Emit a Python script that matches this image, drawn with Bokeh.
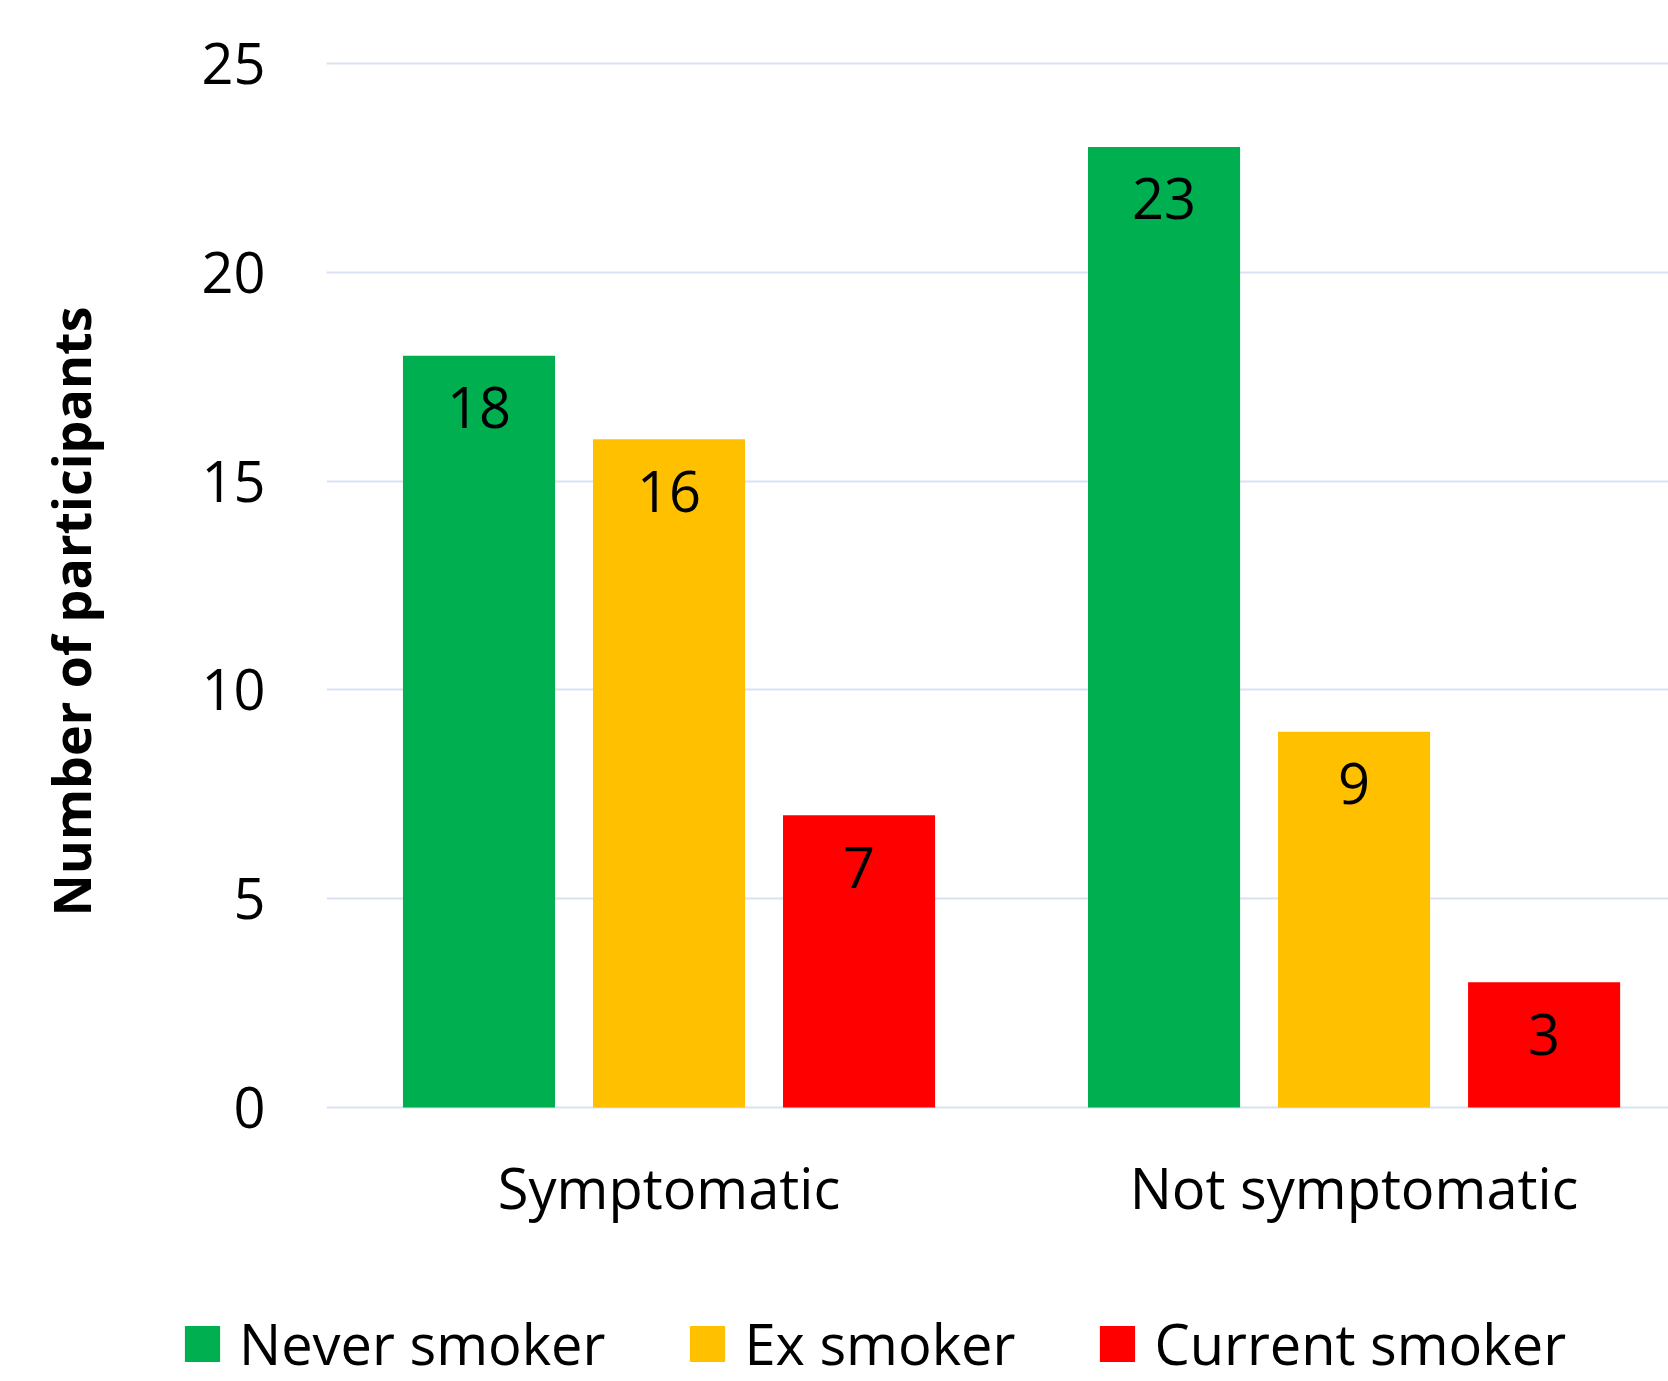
from bokeh.plotting import figure
from bokeh.models import Range1d, FixedTicker, Legend, LegendItem, ColumnDataSource
from bokeh.layouts import column
from bokeh.core.properties import value
from bokeh.embed import file_html
from bokeh.resources import INLINE

categories = ["Symptomatic", "Not symptomatic"]
series = ["Never smoker", "Ex smoker", "Current smoker"]
never_smoker = [18, 23]
ex_smoker = [16, 9]
current_smoker = [7, 3]
colors = ["#00B050", "#FFC000", "#FF0000"]
y_ticks = [0, 5, 10, 15, 20, 25]

W, H = 1668, 1381
H2 = 111
FONT = "Open Sans"

p = figure(width=W, height=H - H2, output_backend="svg", toolbar_location=None,
           x_range=Range1d(0, 1.959), y_range=Range1d(-0.503, 25.55),
           min_border_left=326, min_border_right=0, min_border_top=40,
           min_border_bottom=H - H2 - 1128)
p.frame_align = False
p.outline_line_color = None
p.background_fill_color = "white"
p.border_fill_color = "white"

offsets = [-0.2774, 0.0, 0.2774]
bar_w = 0.222
sources = []
for vals, off, col in zip([never_smoker, ex_smoker, current_smoker], offsets, colors):
    xs = [i + 0.5 + off for i in range(len(categories))]
    src = ColumnDataSource(dict(x=xs, top=vals, lab=[str(v) for v in vals]))
    sources.append(src)
    p.vbar(x="x", top="top", bottom=0, width=bar_w, fill_color=col,
           line_color=None, source=src)
    p.text(x="x", y="top", text="lab", source=src, text_align="center",
           text_baseline="middle", y_offset=52, text_font=value(FONT),
           text_font_size="56px", text_color="black")

# axes
p.xaxis.ticker = FixedTicker(ticks=[i + 0.5 for i in range(len(categories))])
p.xaxis.major_label_overrides = {i + 0.5: c for i, c in enumerate(categories)}
p.xaxis.axis_line_color = None
p.xaxis.major_tick_line_color = None
p.xaxis.minor_tick_line_color = None
p.xaxis.major_label_text_font = FONT
p.xaxis.major_label_text_font_size = "56px"
p.xaxis.major_label_text_color = "black"
p.xaxis.major_label_standoff = 14

p.yaxis.ticker = FixedTicker(ticks=y_ticks)
p.yaxis.axis_line_color = None
p.yaxis.major_tick_line_color = None
p.yaxis.minor_tick_line_color = None
p.yaxis.major_label_text_font = FONT
p.yaxis.major_label_text_font_size = "56px"
p.yaxis.major_label_text_color = "black"
p.yaxis.major_label_standoff = 55
p.yaxis.axis_label = "Number of participants" + "\u00a0" * 4
p.yaxis.axis_label_text_font = FONT
p.yaxis.axis_label_text_font_style = "bold"
p.yaxis.axis_label_text_font_size = "52px"
p.yaxis.axis_label_text_color = "black"
p.yaxis.axis_label_standoff = 92

p.xgrid.grid_line_color = None
p.ygrid.grid_line_color = "#D9E1F2"
p.ygrid.grid_line_width = 2
p.ygrid.ticker = FixedTicker(ticks=y_ticks)

# legend strip: hidden copies of the series provide the legend entries
q = figure(width=W, height=H2, output_backend="svg", toolbar_location=None,
           x_range=Range1d(0, 1.959), y_range=Range1d(0, 30),
           min_border=0, x_axis_location=None, y_axis_location=None)
q.frame_align = False
q.outline_line_color = None
q.xgrid.visible = False
q.ygrid.visible = False
leg_renderers = []
for src, col in zip(sources, colors):
    leg_renderers.append(q.vbar(x="x", top="top", bottom=0, width=bar_w, fill_color=col,
                                line_color=None, source=src, visible=False))

legend = Legend(items=[LegendItem(label=s, renderers=[r]) for s, r in zip(series, leg_renderers)],
                orientation="horizontal", location=(180, 0))
legend.label_text_font = FONT
legend.label_text_font_size = "56px"
legend.label_text_color = "black"
legend.glyph_width = 44
legend.glyph_height = 45
legend.label_standoff = 15
legend.spacing = 80
legend.padding = 0
legend.margin = 0
legend.border_line_color = None
legend.background_fill_alpha = 0
legend.inactive_fill_alpha = 0
legend.click_policy = "none"
q.add_layout(legend, "center")

layout = column(p, q, spacing=0)
open("out.html", "w").write(file_html(layout, INLINE))
